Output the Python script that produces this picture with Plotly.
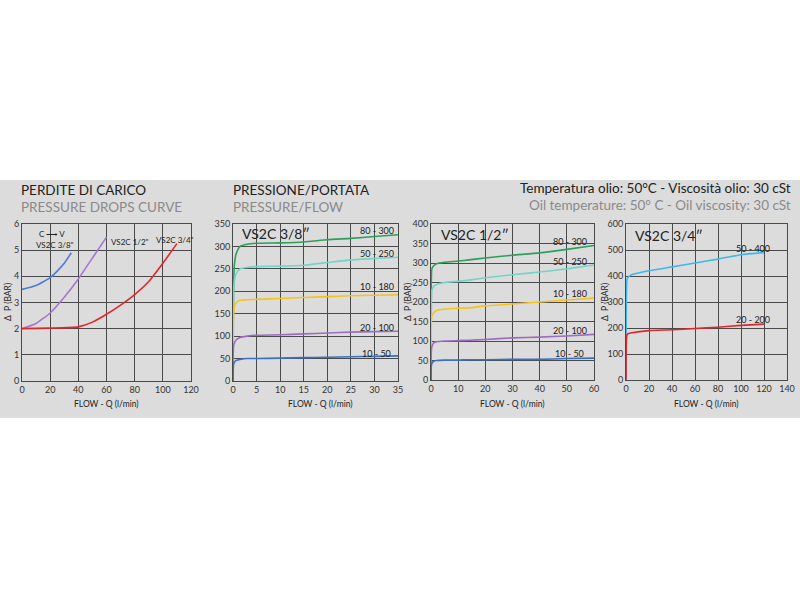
import plotly.graph_objects as go

# Panel 1: pressure drops
p1_38_x = [0, 10, 20, 25, 30, 35]
p1_38_y = [3.5, 3.65, 3.95, 4.2, 4.5, 4.9]
p1_12_x = [0, 10, 20, 30, 40, 50, 60]
p1_12_y = [2.0, 2.2, 2.6, 3.2, 3.9, 4.7, 5.5]
p1_34_x = [0, 20, 40, 50, 60, 70, 80, 90, 100, 110]
p1_34_y = [2.0, 2.02, 2.07, 2.25, 2.55, 2.9, 3.3, 3.8, 4.5, 5.25]

# Panel 2: VS2C 3/8
p2_x = [0, 0.1, 0.3, 0.7, 1.5, 3, 5, 10, 15, 20, 25, 30, 35]
p2_300 = [0, 200, 260, 285, 300, 305, 307, 308, 310, 315, 318, 322, 326]
p2_250 = [0, 190, 225, 240, 250, 253, 255, 256, 258, 264, 270, 273, 276]
p2_180 = [0, 145, 165, 175, 180, 181, 182, 184, 186, 188, 190, 191, 192]
p2_100 = [0, 75, 85, 92, 97, 100, 102, 103, 105, 107, 109, 110, 111]
p2_50 = [0, 35, 42, 46, 48, 50, 50, 51, 52, 53, 54, 55, 56]

# Panel 3: VS2C 1/2
p3_x = [0, 0.1, 0.3, 1, 2, 5, 10, 14, 20, 30, 40, 50, 60]
p3_300 = [0, 200, 285, 293, 298, 302, 305, 308, 313, 320, 326, 335, 345]
p3_250 = [0, 180, 230, 240, 245, 250, 253, 256, 262, 270, 277, 285, 295]
p3_180 = [0, 140, 165, 172, 178, 182, 184, 185, 190, 195, 200, 205, 210]
p3_100 = [0, 70, 85, 95, 98, 100, 101, 102, 104, 108, 110, 113, 117]
p3_50 = [0, 35, 42, 48, 50, 51, 51, 52, 52, 53, 53, 55, 56]

# Panel 4: VS2C 3/4
p4_x = [0, 0.3, 1, 3, 5, 20, 40, 60, 80, 100, 120]
p4_400 = [0, 300, 390, 400, 405, 420, 435, 450, 465, 482, 490]
p4_200 = [0, 150, 175, 180, 182, 190, 193, 198, 203, 210, 215]

BG = "#dcdcdc"
GRID = "#4a4a4a"
FONT = "Lato"

fig = go.Figure()

def line(x, y, color, ax):
    fig.add_trace(go.Scatter(x=x, y=y, mode="lines", line=dict(color=color, width=1.6, shape="spline", smoothing=0.5),
                             xaxis="x" + ax, yaxis="y" + ax, showlegend=False, hoverinfo="skip"))

line(p1_38_x, p1_38_y, "#4a80d0", "")
line(p1_12_x, p1_12_y, "#a577cc", "")
line(p1_34_x, p1_34_y, "#e3262a", "")
for y, c in [(p2_300, "#2e9e5b"), (p2_250, "#6fd6c6"), (p2_180, "#f3c51c"), (p2_100, "#9c6cc0"), (p2_50, "#3a6fc2")]:
    line(p2_x, y, c, "2")
for y, c in [(p3_300, "#2e9e5b"), (p3_250, "#6fd6c6"), (p3_180, "#f3c51c"), (p3_100, "#9c6cc0"), (p3_50, "#3a6fc2")]:
    line(p3_x, y, c, "3")
line(p4_x, p4_400, "#3cb9ea", "4")
line(p4_x, p4_200, "#e0262a", "4")

W, H = 800, 600
def dom(a, b, size):
    return [a / size, b / size]

panels = [
    ("", 22, 191, 224, 381, [0, 120], 20, [0, 6], 1),
    ("2", 233, 398, 224, 381, [0, 35], 5, [0, 350], 50),
    ("3", 431, 594, 224, 380, [0, 60], 10, [0, 400], 50),
    ("4", 626, 787, 224, 380, [0, 140], 20, [0, 600], 100),
]
layout = dict(width=W, height=H, margin=dict(l=0, r=0, t=0, b=0, autoexpand=False), paper_bgcolor="white",
              plot_bgcolor=BG, font=dict(family=FONT, color="#222"))
ax_common = dict(showgrid=True, gridcolor=GRID, gridwidth=1, zeroline=False, showline=True,
                 linecolor=GRID, ticks="", tickfont=dict(size=9, color="#333"), fixedrange=True,
                 automargin=False)
for ax, x0, x1, yt, yb, xr, xd, yr, yd in panels:
    layout["xaxis" + ax] = dict(ax_common, domain=dom(x0, x1, W), range=xr, dtick=xd,
                                anchor="y" + ax, mirror=True)
    layout["yaxis" + ax] = dict(ax_common, domain=[1 - yb / H, 1 - yt / H], range=yr, dtick=yd,
                                anchor="x" + ax, mirror=True)
fig.update_layout(**layout)

shapes = [dict(type="rect", xref="paper", yref="paper", x0=0, x1=1, y0=1 - 418 / H, y1=1 - 180 / H,
               fillcolor=BG, line=dict(width=0), layer="below")]
fig.update_layout(shapes=shapes)

def ann(text, x, y, size, color="#222", xanchor="left", ref=("paper", "paper"), textangle=0, yanchor="middle"):
    if ref[0] == "paper":
        x = x / W
        y = 1 - y / H
    fig.add_annotation(text=text, x=x, y=y, xref=ref[0], yref=ref[1], showarrow=False,
                       font=dict(size=size, color=color, family=FONT), xanchor=xanchor,
                       yanchor=yanchor, textangle=textangle)

ann("PERDITE DI CARICO", 19, 190, 13.5)
ann("PRESSURE DROPS CURVE", 19, 207, 13.5, "#8a8a8a")
ann("PRESSIONE/PORTATA", 231, 190, 13.5)
ann("PRESSURE/FLOW", 231, 207, 13.5, "#8a8a8a")
ann("Temperatura olio: 50°C - Viscosità olio: 30 cSt", 793, 188, 13.5, "#222", "right")
ann("Oil temperature: 50° C - Oil viscosity: 30 cSt", 793, 205, 13.5, "#8a8a8a", "right")

for xc, yc in [(106, 404), (320, 404), (512, 404), (706, 404)]:
    ann("FLOW - Q (l/min)", xc, yc, 8.5, "#222", "center")
for xc in [8, 408, 605]:
    ann("Δ  P (BAR)", xc, 302, 8.5, "#222", "center", textangle=-90)

# Panel 1 labels
for t, x, y in [("C ⟶ V", 11, 5.6), ("VS2C 3/8\"", 8.5, 5.2), ("VS2C 1/2\"", 62, 5.3), ("VS2C 3/4\"", 94, 5.4)]:
    ann(t, x, y, 8, ref=("x", "y"))
ann("VS2C 3/8″", 1.5, 328, 14, ref=("x2", "y2"))
ann("VS2C 1/2″", 3, 372, 14, ref=("x3", "y3"))
ann("VS2C 3/4″", 6, 555, 14, ref=("x4", "y4"))
for t, y in [("80 - 300", 336), ("50 - 250", 285), ("10 - 180", 210), ("20 - 100", 120), ("10 - 50", 62)]:
    ann(t, 30.5, y, 9, xanchor="center", ref=("x2", "y2"))
for t, y in [("80 - 300", 355), ("50 - 250", 304), ("10 - 180", 222), ("20 - 100", 128), ("10 - 50", 67)]:
    ann(t, 51, y, 9, xanchor="center", ref=("x3", "y3"))
ann("50 - 400", 110, 507, 9, xanchor="center", ref=("x4", "y4"))
ann("20 - 200", 110, 232, 9, xanchor="center", ref=("x4", "y4"))

fig.write_html("out.html", config={"displayModeBar": False},
               post_script="document.body.style.margin='0';document.body.style.overflow='hidden';")
